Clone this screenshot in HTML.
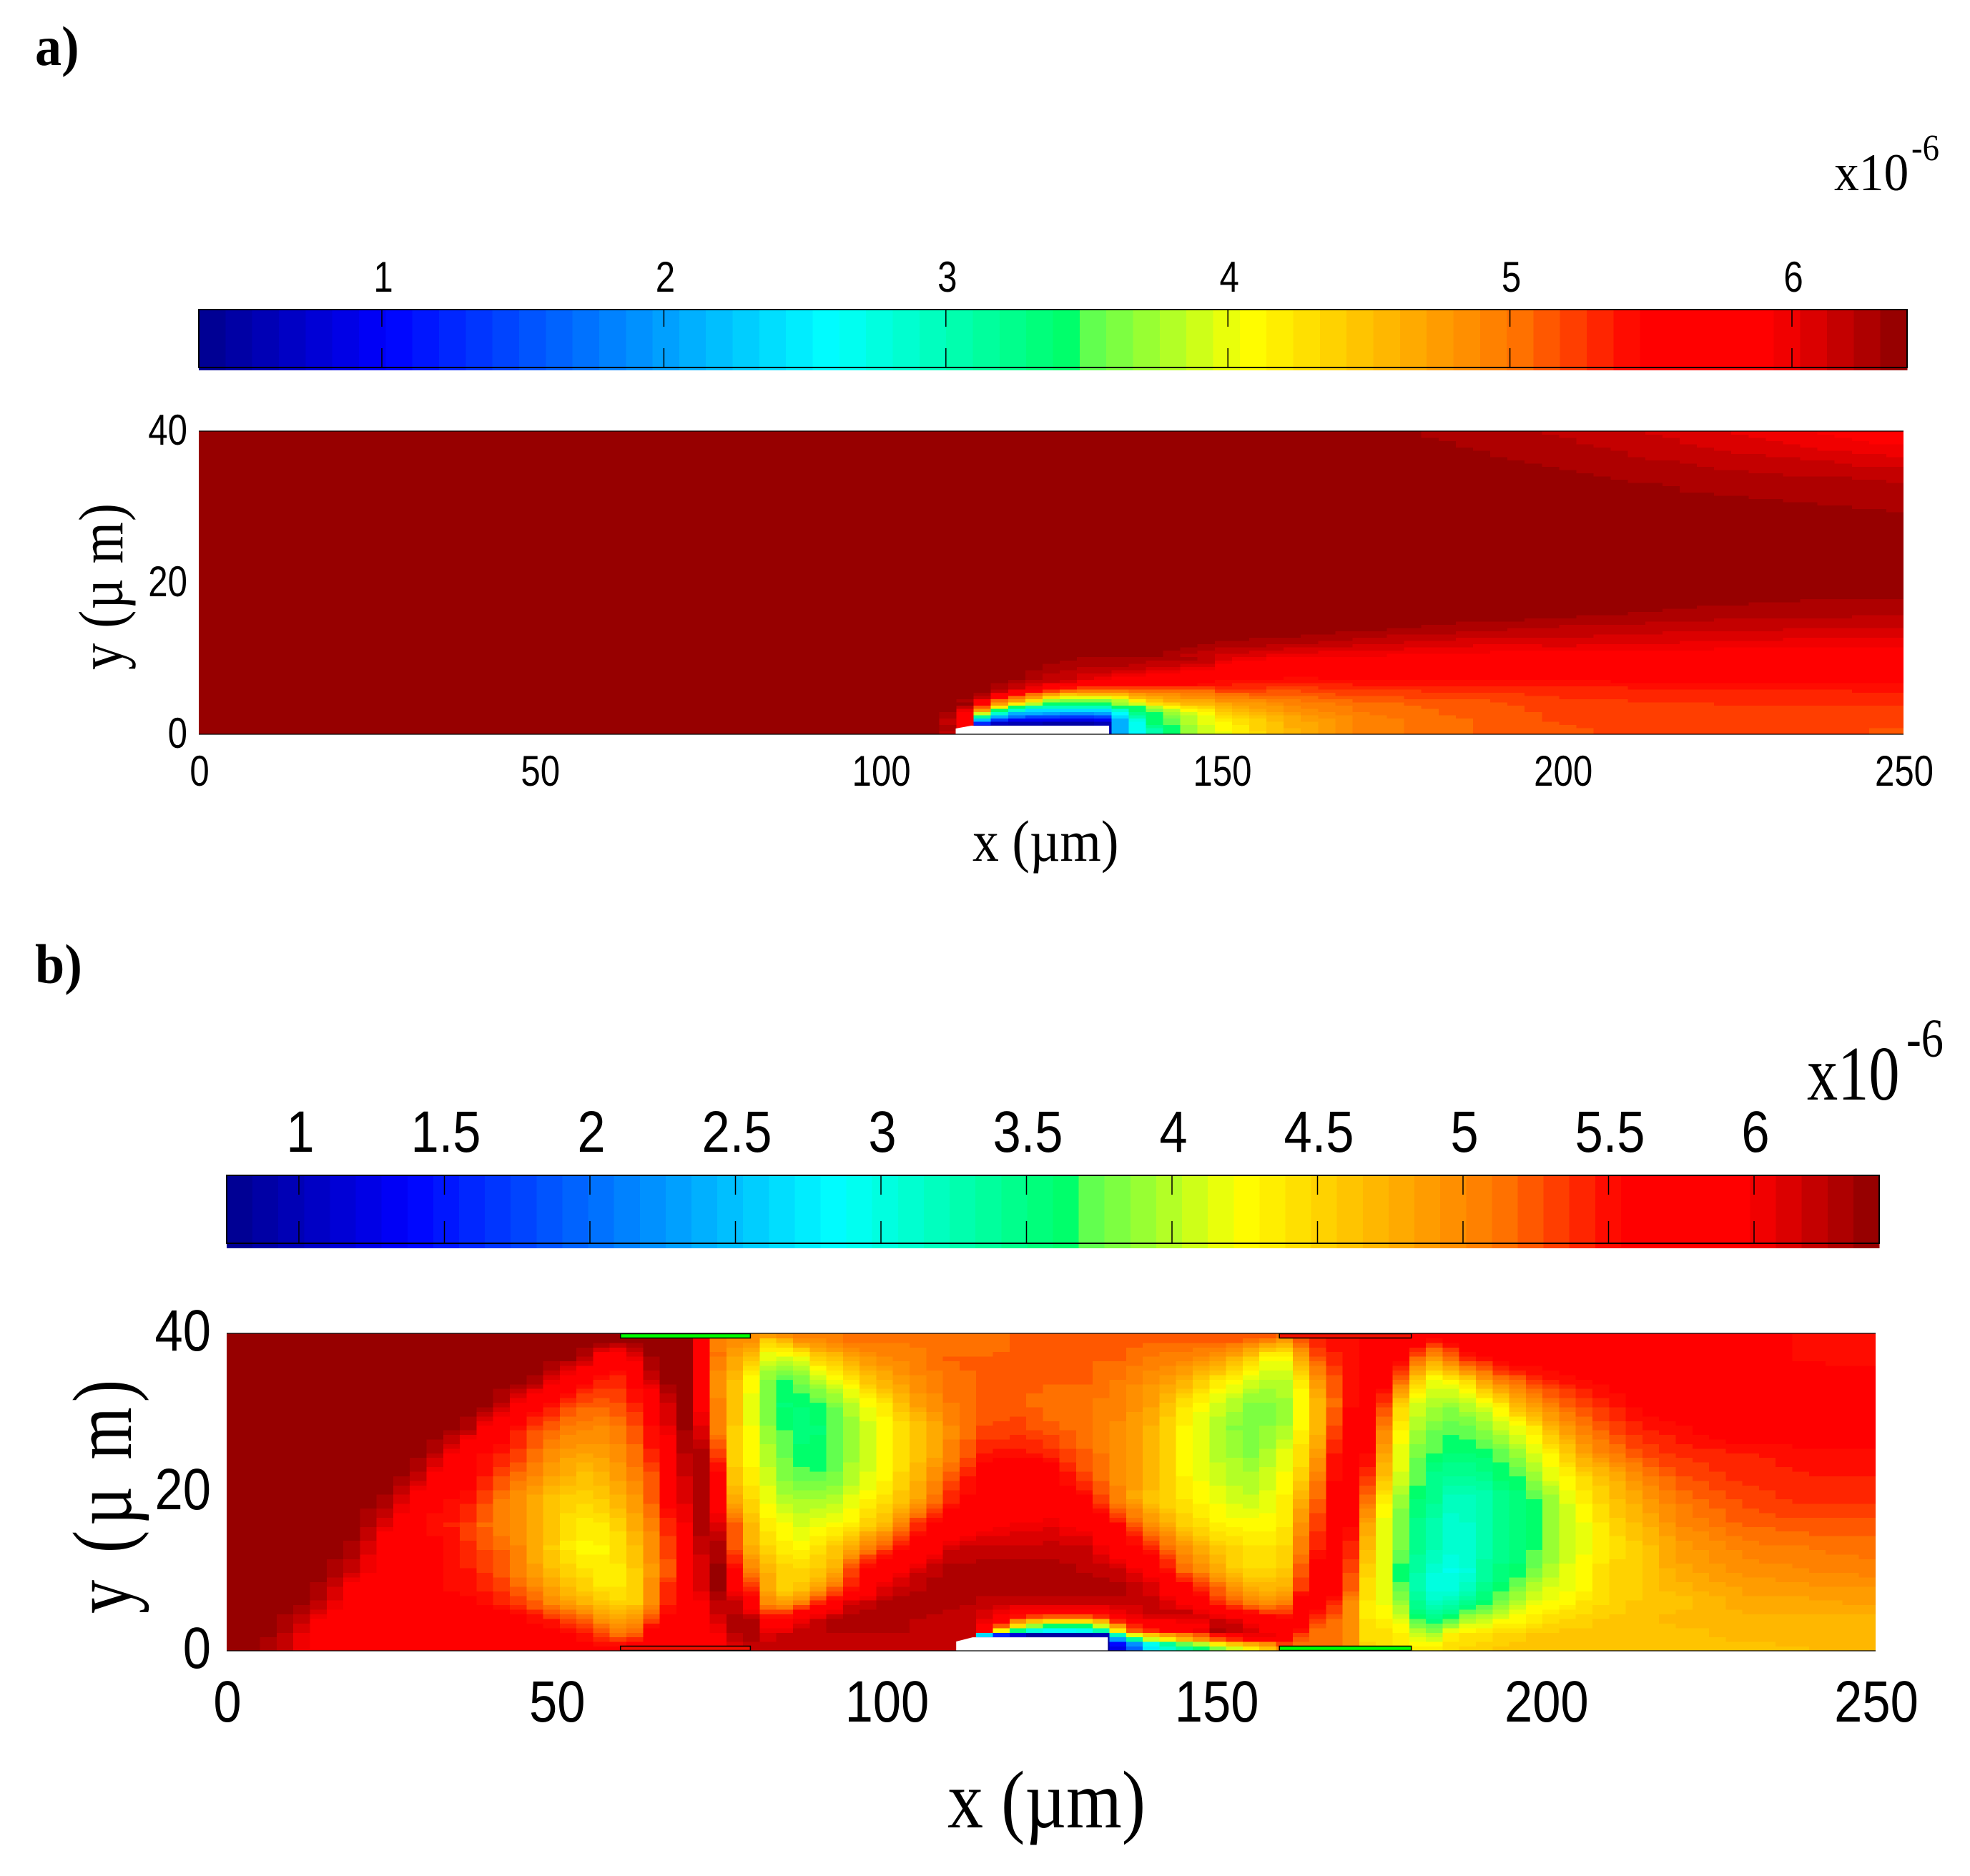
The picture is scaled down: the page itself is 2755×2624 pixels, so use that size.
<!DOCTYPE html>
<html lang="en">
<head>
<meta charset="utf-8">
<title>Concentration field panels a and b</title>
<style>
html,body{margin:0;padding:0;background:#fff;}
svg{display:block;}
text{fill:#000;}
.sans{font-family:"Liberation Sans",sans-serif;}
.serif{font-family:"Liberation Serif",serif;}
</style>
</head>
<body>
<svg id="figure" xmlns="http://www.w3.org/2000/svg" width="2755" height="2624" viewBox="0 0 2755 2624">
  <rect x="0" y="0" width="2755" height="2624" fill="#fff"/>
  <g id="panelA"></g>
  <g id="panelB"></g>

  <text class="serif" font-weight="bold" font-size="78" transform="translate(49,91) scale(.95,1)">a)</text>
  <text class="serif" font-weight="bold" font-size="78" transform="translate(49,1375) scale(.95,1)">b)</text>

  <text class="serif" font-size="74" transform="translate(2565,266) scale(.94,1)">x10</text>
  <text class="serif" font-size="52" transform="translate(2673,224) scale(.9,1)">-6</text>
  <text class="serif" font-size="108" transform="translate(2527,1538) scale(.8,1)">x10</text>
  <text class="serif" font-size="76" transform="translate(2666,1478) scale(.82,1)">-6</text>

  <text class="serif" font-size="82" transform="translate(1360,1204) scale(.9,1)">x (µm)</text>
  <text class="serif" font-size="88" textLength="274" lengthAdjust="spacing" transform="translate(171,937) rotate(-90) scale(.85,1)">y (µ m)</text>
  <text class="serif" font-size="115" transform="translate(1325,2556) scale(.87,1)">x (µm)</text>
  <text class="serif" font-size="118" textLength="409" lengthAdjust="spacing" transform="translate(183,2257) rotate(-90) scale(.8,1)">y (µ m)</text>
</svg>

<script>
// ---------- shared axis tick data ----------
const plotXTicks = [0, 50, 100, 150, 200, 250];
const plotYTicks = [0, 20, 40];
const colorbarTicksA = [1, 2, 3, 4, 5, 6];
const colorbarTicksB = [1, 1.5, 2, 2.5, 3, 3.5, 4, 4.5, 5, 5.5, 6];
const colorbarRangeA = [0.35, 6.41];
const colorbarRangeB = [0.75, 6.43];

// ---------- panel a: field values in tenths of 1e-6 ----------
const xA = [0,100,110,120,130,140,150,160,170,180,190,200,210,220,230,240,250];
const yA = [40,38,36,34,32,30,28,20,18,16,14,12,10,8,6,4,2,0];
const fieldA = [
[64,64,64,64,64,64,64,64,64,63,62.5,62.1,61.4,60.7,59.9,59,57.5],
[64,64,64,64,64,64,64,64,64,63.5,62.9,62.4,62,61.3,60.6,60,59.4],
[64,64,64,64,64,64,64,64,64,64,63.3,62.9,62.4,62.1,61.7,61.2,60.6],
[64,64,64,64,64,64,64,64,64,64,64,63.4,63,62.6,62.3,62.2,62],
[64,64,64,64,64,64,64,64,64,64,64,64,63.6,63.1,62.9,62.7,62.6],
[64,64,64,64,64,64,64,64,64,64,64,64,64,64,63.4,63.2,63],
[64,64,64,64,64,64,64,64,64,64,64,64,64,64,64,64,63.3],
[64,64,64,64,64,64,64,64,64,64,64,64,64,64,64,64,64],
[64,64,64,64,64,64,64,64,64,64,64,64,64,63.6,63.4,63.2,63.2],
[64,64,64,64,64,64,64,64,64,64,64,63.6,63.1,62.8,62.6,62.5,62.4],
[64,64,64,64,64,64,64,64,63.5,63,62.4,62,61.8,61.6,61.4,61.3,61.3],
[64,64,64,64,64,64,63,62.5,61.5,61,60.5,60.8,60.3,60.2,60,59.6,59.7],
[64,64,64,64,64,63,60.5,59,59,58.5,58.5,58,58,58,58,58,58],
[64,64,64,63,62,60,56,55.5,55.5,55.5,55.5,55.5,56,56,56,56,56],
[64,64,64,61,53,50,53,52,53,53,53,53.3,53.5,53.6,53.8,53.8,53.9],
[64,64,64,40,35,42,46.5,49,50.5,51,51.5,52.5,52.5,52.7,52.8,52.8,52.8],
[64,64,64,10,10,35,41.5,46.5,49,50.5,51,52,52,52,52,52,52],
[64,64,64,5,5,34,40,45.5,49,50.5,51,51.5,52,52,52,52,51.5]
];
// refined readings around the obstacle in panel a
const xWakeA = [107.5,110,112.5,115,117.5,120,122.5,125,127.5,130,132.5,135,137.5,140,142.5,145,147.5,150];
const yWakeA = [10,9.6,9.15,8.7,8.3,7.9,7.5,7,6.6,6.2,5.7,5.3,4.87,4.45,4,3.6,3.18,2.77,2.33,1.92,1.48,1.04,0.4];
const wakeA = [
[64,64,64,64,64,64,64,64,64,63,63,63,63,63,63,63,62,62],
[64,64,64,64,64,64,64,64,63,63,63,63,63,62,62,62,62,62],
[64,64,64,64,64,64,64,63,63,63,63,63,62,62,62,61,61,61],
[64,64,64,64,64,64,64,63,63,62,62,62,62,61,61,60,60,60],
[64,64,64,64,64,64,63,63,62,62,62,61,61,60,60,59,59,59],
[64,64,64,64,64,64,63,62,62,61,61,60,60,59,59,58,58,58],
[64,64,64,64,64,64,63,62,62,61,60,59,59,58,57,57,57,57],
[64,64,64,64,64,63,62,62,61,59,58,57,57,57,57,57,56,55],
[64,64,64,64,63,62,61,59,57,57,56,56,56,55,55,55,54,54],
[64,64,64,64,63,62,60,57,54,52,52,52,52,52,52,52,52,53],
[64,64,64,64,62,59,56,52,50,49,49,49,50,50,50,50,50,51],
[64,64,64,63,59,55,50,47,44,45,45,45,47,48,48,49,49,49],
[64,64,64,62,55,50,47,43,40,40,40,41,45,47,47,48,48,48],
[64,64,63,57,50,47,43,37,36,36,36,38,42,45,46,47,47,47],
[64,64,64,57,47,41,37,34,34,34,34,37,39,42,43,45,46,46],
[64,64,62,51,41,34,30,29,29,29,29,34,34,38,41,43,44,45],
[64,64,60,47,34,28,24,24,24,24,24,28,34,36,38,41,42,43],
[64,63,57,38,28,21,21,20,19,19,20,26,32,34,37,39,41,42],
[64,63,57,30,21,17,14,14,13,13,14,24,30,34,36,38,40,41],
[64,62,57,21,13,10,10,10,9,9,9,21,27,34,35,38,40,41],
[64,62,57,10,7,6,6,5,5,5,5,21,26,34,35,38,40,40],
[64,63,57,5,5,5,5,5,5,5,5,21,26,32,34,37,39,40],
[64,62,57,5,5,5,5,5,5,5,5,21,26,30,34,37,39,40.5]
];

// ---------- panel b: field values in tenths of 1e-6 ----------
const xB = [0,5,10,15,20,25,30,
  32.5,35,37.5,40,42.5,45,47.5,50,52.5,55,
  57.5,60,62.5,65,67.5,70,72.5,75,77.5,80,
  82.5,85,87.5,90,92.5,95,97.5,100,
  105,110,115,120,125,130,135,140,145,150,
  152.5,155,157.5,160,162.5,165,167.5,170,172.5,175,
  177.5,180,182.5,185,187.5,190,192.5,195,197.5,200,
  202.5,205,210,215,220,230,240,250];
const yB = [40,39,37,34,31,28,25,22,19,16,13,10,8,6,4,2,0];
const fieldB = [
[64,64,64,64,64,64,64, 64,64,64,64,64,64,64,64,64,64, 64,64,64,64,64,64,55,50,50,50, 51,51,51,51,51,51,51,51, 51,51,51,52,52,52,52,53,53,53, 53,53,53,53,54,54,55,55,56,57, 57,57,57,57,57,57,57,57,57,57, 57,57,57,57,57,57,55,54.5],
[64,64,64,64,64,64,64, 64,64,64,64,64,64,64,64,64,64, 64,63.6,64,64,64,64,54.5,50,50,49, 44,47,49.5,50,51,51,51,51, 51,51,51,52,52,52,52,52,52,52, 52,51,50,48,52,54.5,55,55,56,56.5, 57,57,54.5,55,57,57,57,57,57,57, 57,57,57,57,57,57,55,54.5],
[64,64,64,64,64,64,64, 64,64,64,64,64,64,64,64,64,62, 57,57,61.5,64,64,64,55,50,48,46, 40.5,41.5,42.5,46,46.5,48.5,49.5,50, 51,52,52,52,52,52,52,51,50.5,49.5, 48,46,42.5,42,47,52,54,55,57,57, 57,53,48.5,51,54.5,55,57,57,57,57, 57,57,57,57,57,57,55,54.5],
[64,64,64,64,64,64,64, 64,64,64,64,64,63.5,63,60,57,55.5, 54,54,57,63,64,64,57,47.5,46,41.5, 37.5,36.6,38,40,42,44,46,47.5, 50,51.5,52,52,52,52,51,49.5,47.5,44, 42.5,41,40,40,42.5,48.5,52,54.5,57,57, 53,46,41.5,42.5,44,47.5,50,51.5,53,54, 54.5,55,56,57,57,57,57,57],
[64,64,64,64,64,64,64, 64,64,64,63.5,62,58,56,54.5,52.5,52, 52,53,54.5,57,63,64,58,48.5,46,41, 37,35.5,36,36.5,38,40,42.5,44, 48.5,51,52,52.5,51,51,50.5,48.5,44,41, 40,38.5,38.5,38.5,41.5,46,51,55,57,55, 46,41.5,40,38.5,40,41,42.5,46,48.5,50, 51.5,53,54.5,56,57,57,57,57],
[64,64,64,64,64,64,64, 64,63.5,62,58,56,54,52.5,51.5,50.5,50, 50,51,53,56,62,64,60,48,45,41.5, 38,36.5,35,36,37,39.5,41,42.5, 46,50,53,53,52.5,51,50,47.5,43,40, 38.5,38.5,38.5,39,42.5,46,52,57,57,52, 44,40,38,37,37,38,40,41.5,42.5,46, 48.5,50,53,54.5,55,57,57,57],
[64,64,64,64,64,64,63.5, 62,59,56,55,54.5,53,51,49.5,48.5,48.5, 49,50,52,55,59,63.5,62.5,51,44,42.5, 39.5,37,36,36,37,39.5,41,42.5, 46,50.5,54.5,55,54,52,50,47.5,43,40, 39.5,38,39.5,41,44,47.5,54,57,57,50, 42.5,38,37,36,36,36,37,38.5,41,42.5, 44.5,48,51,53,54,54.5,55,55],
[64,64,64,64,64,64,62, 57.5,57,56,54,52,51,49.5,48,47,46, 47.5,49,51,53,57,63,63,54,44,43, 40,38,37,37,38,40,41.5,43, 47.5,52.5,57,58,57,53,50,47.5,43,41, 40,39.5,40.5,42,44,50,54.5,57,55,47.5, 42,38,35,34,34,34,36,36.5,38,41, 42.5,44.5,47,50.5,52.5,54,54.5,54.5],
[64,64,64,64,64,63,57, 55.5,55,54.5,52,50.5,49,47,45.5,45,45, 46,47.5,49.5,53,57,62,63.5,57,46,44.5, 41.5,39.5,39.5,39.5,40,42,43,44.5, 48.5,54.5,57,57,57,56,50.5,46,44,42, 41,40.5,41.5,42.5,47,51,57,57,53,44, 40,36,35,32,32,32,34,35,36,38, 41,42.5,46,48.5,51,53,54,54],
[64,64,64,64,64,60,55, 54.5,54.5,53,51,50,49,47,45.5,44,43.5, 44,45.5,48.5,51,55,61,64,60.5,50,46, 43,42,41,42,42.5,43,45.5,47, 54,57,59,60,60.5,59,55.5,50,45.5,43, 42.5,42.5,42.5,43,49,52.5,57,57,49.5,42.5, 38.5,35,33.5,31,31,32.5,34,35,36,38, 40,41.5,45,47,50,52,52.5,52.5],
[64,64,64,64,63,57,57, 55.5,55,53,52.5,51.5,49.5,47,45,43,42.5, 43,44.5,47,50.5,54,57,63,63,50,47, 44.5,43,42.5,44.5,46,48.5,51,53, 57,61.5,62,62,62,62,58,54.5,49.5,46, 45,44,44,44,50,54,57,55.5,48,42, 38.5,35,33,31,31,32.5,34,35,36,38, 40,41.5,44,46,48.5,50.5,51,51.5],
[64,64,64,64,61,57,57, 55.5,55,54.5,53,52,50,48,46,45,44, 43,44,46,50,53,57,62.5,64,54,50, 47,45,45,46,48,54,56.5,58, 62,63,63,63,63,62.5,62,59,52,48.5, 46,45,45,45,51.5,57,57,54.5,45.5,42.5, 37,34,31,29.5,29.5,33,35,36,37,39.5, 41,42.5,45,46,48,49.5,50,50.5],
[64,64,64,63,58,57,57, 55.5,55,55,54,53,51.5,50,47.5,46,45, 43.5,44,46,51,55,58,62,64,58,53, 47,45,46,49,52,55,58,61, 62.5,63,63,63,63,63,63,61.5,57,52, 49.5,48,47,47,52.5,57,57,54,45,42.5, 38,33.5,30,30,31.5,34,36,37,39.5,41, 41.5,42.5,44.5,46,47,48.5,49,49],
[64,64,64,62,57,57,57, 57,56,55.5,55,54,53,51.5,49.5,48,47, 46,44.5,46,51,55,58,60,63,62,57, 48.5,48.5,51,54.5,57,62,62,63, 63,63,62,62,62,62,62,62,60,54, 52.5,51,50,50,58,57,54.5,51,44,42.5, 40,35,32,32,34,36,37.5,39.5,41.5,42.5, 42.5,44,45,46,46,48,48,48.5],
[64,64,63,59,57,57,57, 57,57,57,57,57,55.5,55,54,53,51.5, 49,48.5,50,54,57,57,58,62,63,63, 55,57,61,62,63,63,63,63, 62.5,62,60,52,43,43,53,60,60,62, 62,60,57,55,59,54,52,51,44,43, 42.5,37,35,36,39.5,40,41.5,42.5,43,44, 45,45,46,46,47,47,47,47],
[64,64,62,57,57,57,57, 57,57,57,57,57,57,57,57,55,54.5, 52.5,51.5,53,58,58,59,59,60,63,63.5, 61,62,62.5,62.5,62.5,62.5,62.5,62.5, 62.5,62,22,10,8,8,31,46,50,54, 56,60,60,60,54,51,51,51,44.5,44.5, 44,42,38.5,43,44,44,45,45,46,46, 46,46,46,46,46,47,47,47],
[64,63.5,62,57,55,57,57, 57,58,58,57,57,57,57,57,57,57, 57,57,58,58,58,58,58,58,60,62, 62,62,62,62,62,62,62,62, 62,62,8,8,8,8,12,27,33,38, 41,43,46,48,50,51,51,51,45,45, 44,44,44,44.5,45,45,46,46,46,46, 46,46,46,46,46,46,46.5,46.5]
];
// refined readings around the obstacle in panel b
const xWakeB = [110,112.5,115,117.5,120,122.5,125,127.5,130,132.5,135,137.5,140,142.5,145,147.5,150,152.5,155,157.5,160];
const yWakeB = [6,4.9,4.3,3.7,3.1,2.55,2,1.4,0.9,0.3,0];
const wakeB = [
[62,62,63,62,62,62,62,62,62,62,62,62,62,61,60,57,54,52.5,51,50,50],
[62,62,61,60,59,59,59,59,59,59,60,61,62,62,62,61,59,57,55,53,53],
[62,62,61,57,55,53,52,52,52,54,58,60,61,61,61,61,61,60,58,57,55],
[62,62,60,56,49,45,43,43,43,46,53,57,59,59,60,60,62,62,60,59,56],
[62,62,57,51,43,38,35,35,35,40,48,53,57,57,58,58,62,62,60,60,55],
[62,62,57,41,34,29,28,28,28,32,42,52,54,57,57,60,63,62,62,58,55],
[62,62,23,14,10,8,8,8,8,8,31,41,46,48,50,52,54,56,60,60,60],
[62,62,8,8,8,8,8,8,8,8,22,33,40,43,46,49,52,54,57,59,55],
[62,62,8,8,8,8,8,8,8,8,14,22,29,34,37,40,43,46,48,50,51],
[62,62,8,8,8,8,8,8,8,8,12,19,27,31,33,36,38,41,43,46,48],
[62,62,8,8,8,8,8,8,8,8,12,19,27,31,33,36,38,41,43,46,48]
];
// electrode strips on panel b walls, x in micrometres
const lidStartsB = [59.7, 159.6, 59.7, 159.6];
const lidEndsB = [79.4, 179.6, 79.4, 179.6];
const lidWallsB = ['top', 'top', 'bottom', 'bottom'];
const lidFillsB = ['#00ff00', '#f01000', '#f01000', '#00ff00'];
// obstacle outline, micrometres
const obstacleXA = [111, 111, 113.3, 133.5, 133.5];
const obstacleYA = [0, 0.75, 1.13, 1.13, 0];
const obstacleXB = [110.6, 110.6, 113.1, 133.6, 133.6];
const obstacleYB = [0, 1.17, 1.7, 1.7, 0];

// ---------- colour map ----------
const stops = [
  [0, 0, 0, 140], [0.11, 0, 0, 255], [0.37, 0, 255, 255], [0.512, 0, 255, 102],
  [0.516, 85, 255, 85], [0.614, 255, 255, 0], [0.68, 255, 196, 0], [0.77, 255, 119, 0],
  [0.843, 255, 0, 0], [0.92, 255, 0, 0], [1, 140, 0, 0]
];
function levelColor(level) {
  const f = (level + 0.5) / 64;
  for (let i = 1; i < stops.length; i++) {
    if (f <= stops[i][0]) {
      const a = stops[i - 1], b = stops[i];
      const t = (f - a[0]) / (b[0] - a[0]);
      return 'rgb(' + [1, 2, 3].map(function (c) { return Math.round(a[c] + (b[c] - a[c]) * t); }).join(',') + ')';
    }
  }
  return 'rgb(140,0,0)';
}
function valueColor(tenths, range) {
  const f = (tenths / 10 - range[0]) / (range[1] - range[0]);
  const level = Math.max(0, Math.min(63, Math.floor(f * 64)));
  return levelColor(level);
}

// ---------- helpers ----------
const NS = 'http://www.w3.org/2000/svg';
function make(tag, parent) {
  const el = document.createElementNS(NS, tag);
  parent.appendChild(el);
  return el;
}
function bracket(list, v) {
  const asc = list[0] < list[list.length - 1];
  for (let i = 0; i < list.length - 1; i++) {
    const a = list[i], b = list[i + 1];
    if ((asc && v >= a && v <= b) || (!asc && v <= a && v >= b)) {
      return [i, (v - a) / (b - a)];
    }
  }
  const first = asc ? v < list[0] : v > list[0];
  return first ? [0, 0] : [list.length - 2, 1];
}
function sampleField(xs, ys, rows, x, y) {
  const bx = bracket(xs, x), by = bracket(ys, y);
  const r0 = rows[by[0]], r1 = rows[by[0] + 1];
  const top = r0[bx[0]] + (r0[bx[0] + 1] - r0[bx[0]]) * bx[1];
  const bot = r1[bx[0]] + (r1[bx[0] + 1] - r1[bx[0]]) * bx[1];
  return top + (bot - top) * by[1];
}
function addLabel(parent, str, x, y, size, sx, anchor) {
  const t = make('text', parent);
  t.setAttribute('class', 'sans');
  t.setAttribute('font-size', size);
  t.setAttribute('text-anchor', anchor);
  t.setAttribute('transform', 'translate(' + x + ',' + y + ') scale(' + sx + ',1)');
  t.textContent = str;
  return t;
}

// ---------- panel builder ----------
function buildPanel(cfg) {
  const g = cfg.group;
  const sx = function (v) { return cfg.x0 + (v / 250) * (cfg.x1 - cfg.x0); };
  const sy = function (v) { return cfg.y0 - (v / 40) * (cfg.y0 - cfg.y1); };
  const barX = function (v) { return cfg.barTick1 + (v - 1) * cfg.barPerUnit; };

  // colour bar
  const barWidth = (cfg.barRight - cfg.barLeft) / 64;
  for (let i = 0; i < 64; i++) {
    const seg = make('rect', g);
    
    
    seg.setAttribute('x', (cfg.barLeft + i * barWidth).toFixed(2));
    seg.setAttribute('y', cfg.barTop);
    seg.setAttribute('width', (barWidth + 0.6).toFixed(2));
    seg.setAttribute('height', cfg.barColorBottom - cfg.barTop);
    seg.setAttribute('fill', levelColor(i));
    seg.setAttribute('shape-rendering', 'crispEdges');
  }
  const frame = make('rect', g);
  
  
  frame.setAttribute('x', cfg.barLeft);
  frame.setAttribute('y', cfg.barTop);
  frame.setAttribute('width', cfg.barRight - cfg.barLeft);
  frame.setAttribute('height', cfg.barLine - cfg.barTop);
  frame.setAttribute('fill', 'none');
  frame.setAttribute('stroke', '#000');
  frame.setAttribute('stroke-width', '2');
  cfg.barTicks.forEach(function (v) {
    const tx = barX(v).toFixed(1);
    const up = make('line', g);
    
    
    up.setAttribute('x1', tx); up.setAttribute('x2', tx);
    up.setAttribute('y1', cfg.barTop); up.setAttribute('y2', cfg.barTop + cfg.tickTop);
    up.setAttribute('stroke', '#000'); up.setAttribute('stroke-width', '1.5');
    const dn = make('line', g);
    
    
    dn.setAttribute('x1', tx); dn.setAttribute('x2', tx);
    dn.setAttribute('y1', cfg.barLine - cfg.tickBottom); dn.setAttribute('y2', cfg.barLine);
    dn.setAttribute('stroke', '#000'); dn.setAttribute('stroke-width', '1.5');
    const lab = addLabel(g, String(v), barX(v) + cfg.barLabelShift, cfg.barLabelY, cfg.fontSize, cfg.fontScale, 'middle');
    
    
  });

  // heatmap cells: each cell takes its colour from the value arrays through the axis functions
  const cells = make('g', g);
  
  
  const dx = 250 / cfg.nCols, dy = 40 / cfg.nRows;
  for (let k = 0; k < cfg.nCols; k++) {
    const xc = (k + 0.5) * dx;
    for (let r = 0; r < cfg.nRows; r++) {
      const yc = (r + 0.5) * dy;
      const inWake = xc >= cfg.wakeX[0] && xc <= cfg.wakeX[cfg.wakeX.length - 1] && yc <= cfg.wakeY[0];
      const value = inWake
        ? sampleField(cfg.wakeX, cfg.wakeY, cfg.wake, xc, yc)
        : sampleField(cfg.xs, cfg.ys, cfg.field, xc, yc);
      const cell = make('rect', cells);
      
      
      cell.setAttribute('x', sx(k * dx).toFixed(2));
      cell.setAttribute('y', sy((r + 1) * dy).toFixed(2));
      cell.setAttribute('width', (sx(dx) - sx(0) + 0.5).toFixed(2));
      cell.setAttribute('height', (sy(0) - sy(dy) + 0.5).toFixed(2));
      cell.setAttribute('fill', valueColor(value, cfg.barRange));
      cell.setAttribute('shape-rendering', 'crispEdges');
    }
  }

  // mask overflow past the right plot edge
  const overflow = make('rect', g);
  
  
  overflow.setAttribute('x', sx(250));
  overflow.setAttribute('y', sy(40));
  overflow.setAttribute('width', 2);
  overflow.setAttribute('height', sy(0) - sy(40) + 1);
  overflow.setAttribute('fill', '#fff');

  // obstacle
  const obstacle = make('polygon', g);
  
  
  obstacle.setAttribute('points', cfg.obstacleX.map(function (x, i) {
    return sx(x).toFixed(1) + ',' + sy(cfg.obstacleY[i]).toFixed(1);
  }).join(' '));
  obstacle.setAttribute('fill', '#fff');

  // plot edge lines
  [[sy(0), 'plot-bottom-edge'], [sy(40), 'plot-top-edge']].forEach(function (p) {
    const edge = make('line', g);
    
    
    edge.setAttribute('x1', sx(0)); edge.setAttribute('x2', sx(250));
    edge.setAttribute('y1', p[0]); edge.setAttribute('y2', p[0]);
    edge.setAttribute('stroke', '#000'); edge.setAttribute('stroke-width', '1.2');
  });

  // axis labels
  plotXTicks.forEach(function (v) {
    const lab = addLabel(g, String(v), sx(v) + 1, cfg.xLabelY, cfg.fontSize, cfg.fontScale, 'middle');
    
    
  });
  plotYTicks.forEach(function (v) {
    const lab = addLabel(g, String(v), cfg.yLabelX, sy(v) + cfg.yLabelDrop, cfg.fontSize, cfg.fontScale, 'end');
    
    
  });

  // electrode strips
  (cfg.lidStarts || []).forEach(function (start, i) {
    const lid = make('rect', g);
    
    
    lid.setAttribute('x', sx(start).toFixed(1));
    lid.setAttribute('y', cfg.lidWalls[i] === 'top' ? sy(40) + 0.5 : sy(0) - 6.5);
    lid.setAttribute('width', (sx(cfg.lidEnds[i]) - sx(start)).toFixed(1));
    lid.setAttribute('height', 6);
    lid.setAttribute('fill', cfg.lidFills[i]);
    lid.setAttribute('stroke', '#000');
    lid.setAttribute('stroke-width', '1.5');
  });
}

buildPanel({
  group: document.getElementById('panelA'),
  x0: 278, x1: 2662, y0: 1027, y1: 603,
  xs: xA, ys: yA, field: fieldA,
  wakeX: xWakeA, wakeY: yWakeA, wake: wakeA,
  obstacleX: obstacleXA, obstacleY: obstacleYA,
  nCols: 99, nRows: 94,
  barLeft: 278, barRight: 2667, barTop: 433, barLine: 514, barColorBottom: 518,
  barTick1: 534, barPerUnit: 394.4, barRange: colorbarRangeA, barTicks: colorbarTicksA,
  tickTop: 24, tickBottom: 27,
  barLabelY: 408, barLabelShift: 2, xLabelY: 1099, yLabelX: 262, yLabelDrop: 19,
  fontSize: 60, fontScale: 0.82
});

buildPanel({
  group: document.getElementById('panelB'),
  x0: 317, x1: 2623, y0: 2309, y1: 1865,
  xs: xB, ys: yB, field: fieldB,
  wakeX: xWakeB, wakeY: yWakeB, wake: wakeB,
  obstacleX: obstacleXB, obstacleY: obstacleYB,
  lidStarts: lidStartsB, lidEnds: lidEndsB, lidWalls: lidWallsB, lidFills: lidFillsB,
  nCols: 99, nRows: 69,
  barLeft: 317, barRight: 2628, barTop: 1644, barLine: 1739, barColorBottom: 1746,
  barTick1: 418, barPerUnit: 407, barRange: colorbarRangeB, barTicks: colorbarTicksB,
  tickTop: 27, tickBottom: 31,
  barLabelY: 1611, barLabelShift: 2, xLabelY: 2408, yLabelX: 295, yLabelDrop: 24,
  fontSize: 82, fontScale: 0.86
});
</script>
</body>
</html>
